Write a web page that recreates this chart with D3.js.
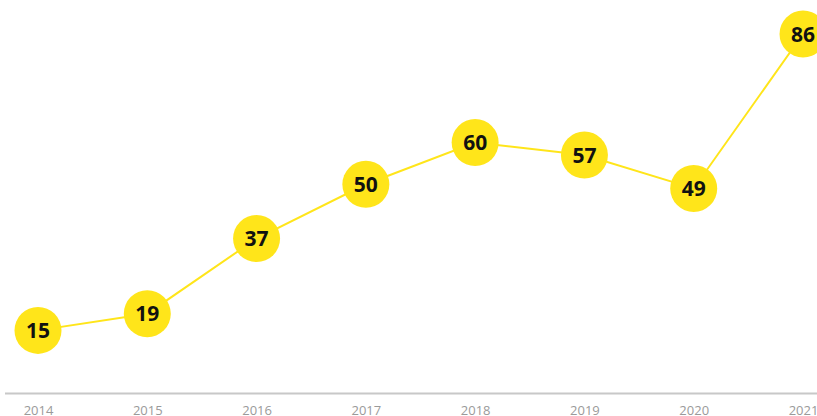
<!DOCTYPE html>
<html>
<head>
<meta charset="utf-8">
<script src="https://cdn.jsdelivr.net/npm/d3@7"></script>
<style>
  html, body { margin: 0; padding: 0; background: #fff; overflow: hidden; }
  svg { display: block; }
</style>
</head>
<body>
<script>
var years = ["2014", "2015", "2016", "2017", "2018", "2019", "2020", "2021"];
var values = [15, 19, 37, 50, 60, 57, 49, 86];

var width = 817, height = 416;

var svg = d3.select("body").append("svg")
  .attr("width", width)
  .attr("height", height);

var x = d3.scalePoint()
  .domain(years)
  .range([38, 803]);

var y = d3.scaleLinear()
  .domain([0, 86])
  .range([393, 34]);

var data = years.map(function(d, i) { return { year: d, value: values[i] }; });

// baseline
svg.append("line")
  .attr("x1", 5)
  .attr("x2", width)
  .attr("y1", 393.5)
  .attr("y2", 393.5)
  .attr("stroke", "#c8c8c8")
  .attr("stroke-width", 2);

// year labels
var xAxis = d3.axisBottom(x).tickSize(0).tickPadding(0);
var gx = svg.append("g")
  .attr("transform", "translate(0,406)")
  .call(xAxis);
gx.select(".domain").remove();
gx.selectAll("text")
  .attr("dy", "0.71em")
  .attr("fill", "#9a9a9a")
  .style("font-family", "'Open Sans', sans-serif")
  .style("font-size", "13px");

// line
svg.append("path")
  .datum(data)
  .attr("fill", "none")
  .attr("stroke", "#ffe51a")
  .attr("stroke-width", 2)
  .attr("d", d3.line()
    .x(function(d) { return x(d.year); })
    .y(function(d) { return y(d.value); }));

var dots = svg.append("g")
  .selectAll("g")
  .data(data)
  .join("g")
  .attr("transform", function(d) { return "translate(" + x(d.year) + "," + y(d.value) + ")"; });

dots.append("circle")
  .attr("r", 23.5)
  .attr("fill", "#ffe51a");

dots.append("text")
  .attr("text-anchor", "middle")
  .attr("dy", "0.36em")
  .attr("fill", "#111")
  .style("font-family", "'Open Sans', sans-serif")
  .style("font-weight", "bold")
  .style("font-size", "21px")
  .text(function(d) { return d.value; });
</script>
</body>
</html>
